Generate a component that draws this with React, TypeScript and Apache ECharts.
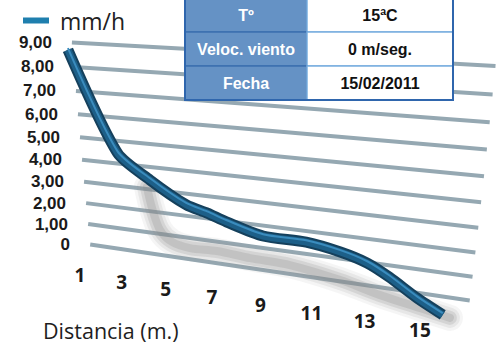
import React, { useEffect, useRef } from 'react';
import * as echarts from 'echarts';

// ---- data ----
const seriesName = 'mm/h';
const xAxisTitle = 'Distancia (m.)';
const yTicks = [0, 1, 2, 3, 4, 5, 6, 7, 8, 9];
const xTickLabels = [1, 3, 5, 7, 9, 11, 13, 15];
const lineDistances = [0.4, 2.8, 4.3, 5.9, 6.8, 7.6, 9.1, 10.8, 12.1, 13.1, 13.9, 14.9, 15.8];
const lineValues = [8.69, 4.47, 3.42, 2.5, 2.24, 1.96, 1.54, 1.52, 1.29, 0.97, 0.5, -0.21, -0.71];
const shadowDistances = [4.16, 4.39, 4.75, 5.28, 6.06, 7.2, 8.58, 10.2, 12.1, 13.57, 15.0, 16.05];
const shadowValues = [3.1, 2.16, 1.18, 0.7, 0.53, 0.57, 0.46, 0.4, 0.06, -0.31, -0.58, -0.78];
const tableLabels = ['Tº', 'Veloc. viento', 'Fecha'];
const tableValues = ['15ªC', '0 m/seg.', '15/02/2011'];

const FONT = "'Open Sans', 'Liberation Sans', sans-serif";
const TFONT = "'Liberation Sans', Arial, sans-serif";

// perspective projection built on top of the cartesian scales
function project(api: any, d: number, v: number): number[] {
  const p = api.coord([d, v]);
  const x = p[0] + 0.2857 * d * d;
  const vc = Math.max(0, Math.min(9, v));
  const y = p[1] + (0.1475 - 0.01025 * v) * (x - 80) + 0.27 * vc * (9 - vc);
  return [x, y];
}

function fmtTick(v: number) {
  return v === 0 ? '0' : v.toFixed(2).replace('.', ',');
}

export default function App() {
  const ref = useRef<HTMLDivElement>(null);
  useEffect(() => {
    if (!ref.current) return;
    const chart = echarts.init(ref.current, undefined, { renderer: 'svg' });

    const tableGraphics: any[] = [];
    const x0 = 185, x1 = 307, x2 = 453, top = -2, rh = 34;
    tableLabels.forEach((lab, i) => {
      const y = top + i * rh;
      tableGraphics.push({
        type: 'rect', z: 100,
        shape: { x: x0, y, width: x1 - x0, height: rh },
        style: { fill: '#6592c5', stroke: '#3d70b0', lineWidth: 1.5 },
      });
      tableGraphics.push({
        type: 'rect', z: 100,
        shape: { x: x1, y, width: x2 - x1, height: rh },
        style: { fill: '#ffffff', stroke: '#7aaedf', lineWidth: 1.5 },
      });
      tableGraphics.push({
        type: 'text', z: 102, x: (x0 + x1) / 2, y: y + rh / 2 + 0.5,
        style: {
          text: lab, fill: '#ffffff', font: `bold 16px ${TFONT}`,
          align: 'center', verticalAlign: 'middle', textAlign: 'center', textVerticalAlign: 'middle',
        },
      });
      tableGraphics.push({
        type: 'text', z: 102, x: (x1 + x2) / 2, y: y + rh / 2 + 0.5,
        style: {
          text: tableValues[i], fill: '#111111', font: `bold 16px ${TFONT}`,
          align: 'center', verticalAlign: 'middle', textAlign: 'center', textVerticalAlign: 'middle',
        },
      });
    });
    tableGraphics.push({
      type: 'rect', z: 101,
      shape: { x: x0, y: top, width: x2 - x0, height: rh * tableLabels.length },
      style: { fill: 'none', stroke: '#2f66ad', lineWidth: 2 },
    });
    tableGraphics.push({
      type: 'text', z: 50, x: 43, y: 330,
      style: {
        text: xAxisTitle, fill: '#1e1e1e', font: `21.5px ${FONT}`,
        align: 'left', verticalAlign: 'middle', textAlign: 'left', textVerticalAlign: 'middle',
      },
    });

    const option: any = {
      animation: false,
      backgroundColor: '#ffffff',
      grid: { left: 60, right: 41.8, top: 43, bottom: 106, containLabel: false },
      xAxis: { type: 'value', min: 0, max: 20, show: false },
      yAxis: { type: 'value', min: 0, max: 9, interval: 1, show: false },
      legend: {
        data: [{ name: seriesName, icon: 'rect' }],
        left: 18, top: 4, itemWidth: 26, itemHeight: 6,
        selectedMode: false,
        textStyle: { fontSize: 23, color: '#222', fontFamily: FONT, padding: [0, 0, 0, 6] },
      },
      graphic: tableGraphics,
      series: [
        {
          type: 'custom', name: 'grid', coordinateSystem: 'cartesian2d', clip: false, silent: true, z: 1,
          data: yTicks.map((v) => [0, v]),
          renderItem: (params: any, api: any) => {
            const v = api.value(1);
            const a = project(api, 1.5 - 0.1 * v, v);
            const b = project(api, 16.73 + 0.097 * v, v);
            return {
              type: 'line',
              shape: { x1: a[0], y1: a[1], x2: b[0], y2: b[1] },
              style: { stroke: '#95a8b2', lineWidth: 4 },
            };
          },
        },
        {
          type: 'custom', name: 'yLabels', coordinateSystem: 'cartesian2d', clip: false, silent: true, z: 2,
          data: yTicks.map((v) => [0, v]),
          renderItem: (params: any, api: any) => {
            const v = api.value(1);
            const p = project(api, 1.5 - 0.1 * v, v);
            return {
              type: 'text', x: 52 + (9 - v) * 2, y: p[1],
              style: {
                text: fmtTick(v), fill: '#1a1a1a', font: `bold 17px ${TFONT}`, lineHeight: 17,
                align: 'right', verticalAlign: 'middle', textAlign: 'right', textVerticalAlign: 'middle',
              },
            };
          },
        },
        {
          type: 'custom', name: 'xLabels', coordinateSystem: 'cartesian2d', clip: false, silent: true, z: 2,
          data: xTickLabels.map((d) => [d, 0]),
          renderItem: (params: any, api: any) => {
            const d = api.value(0);
            const p = project(api, d, -1.45);
            return {
              type: 'text', x: p[0], y: p[1],
              style: {
                text: String(d), fill: '#1a1a1a', font: `bold 19px ${FONT}`,
                align: 'center', verticalAlign: 'middle', textAlign: 'center', textVerticalAlign: 'middle',
              },
            };
          },
        },
        {
          type: 'custom', name: 'shadow', coordinateSystem: 'cartesian2d', clip: false, silent: true, z: 3,
          data: shadowDistances.map((d, i) => [d, shadowValues[i]]),
          renderItem: (params: any, api: any) => {
            if (params.dataIndex !== 0) return null;
            const pts = shadowDistances.map((d, i) => project(api, d, shadowValues[i]));
            const mk = (w: number, c: string) => ({
              type: 'polyline', shape: { points: pts, smooth: 0.3 },
              style: { stroke: c, lineWidth: w, fill: null, lineJoin: 'round', lineCap: 'round' },
            });
            return {
              type: 'group',
              children: [
                mk(26, 'rgba(160,160,160,0.10)'),
                mk(20, 'rgba(150,150,150,0.14)'),
                mk(14, 'rgba(140,140,140,0.20)'),
                mk(8, 'rgba(130,130,130,0.22)'),
              ],
            };
          },
        },
        {
          type: 'custom', name: seriesName, coordinateSystem: 'cartesian2d', clip: false, silent: true, z: 5,
          itemStyle: { color: '#1f7fae' },
          data: lineDistances.map((d, i) => [d, lineValues[i]]),
          renderItem: (params: any, api: any) => {
            if (params.dataIndex !== 0) return null;
            const pts = lineDistances.map((d, i) => project(api, d, lineValues[i]));
            const hi = pts.map((p) => [p[0], p[1] - 1.8]);
            const mk = (p: number[][], w: number, c: string) => ({
              type: 'polyline', shape: { points: p, smooth: 0.25 },
              style: { stroke: c, lineWidth: w, fill: null, lineJoin: 'round', lineCap: 'butt' },
            });
            return {
              type: 'group',
              children: [
                mk(pts, 11, '#15405c'),
                mk(pts, 7, '#1d5f88'),
                mk(hi, 2, '#3a8cbe'),
              ],
            };
          },
        },
      ],
    };
    chart.setOption(option);
    return () => chart.dispose();
  }, []);

  return (
    <div
      ref={ref}
      style={{ position: 'fixed', left: 0, top: 0, width: 496, height: 349, background: '#fff' }}
    />
  );
}
